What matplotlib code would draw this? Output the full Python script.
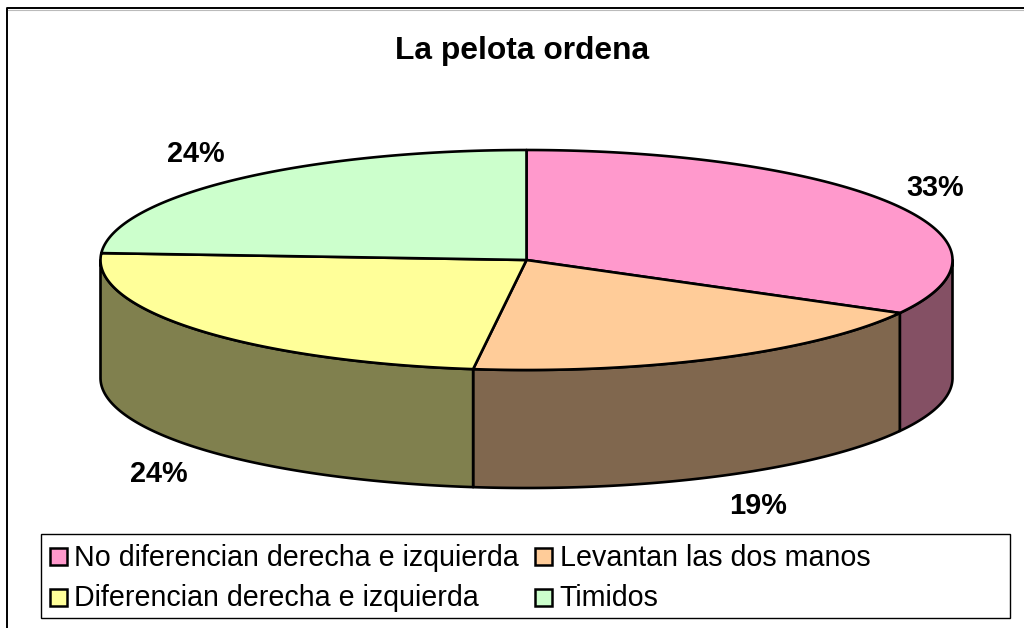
import numpy as np
import matplotlib
matplotlib.use("Agg")
import matplotlib.pyplot as plt
from matplotlib.patches import Polygon, Rectangle

categories = [
    "No diferencian derecha e izquierda",
    "Levantan las dos manos",
    "Diferencian derecha e izquierda",
    "Timidos",
]
values = [33, 19, 24, 24]
top_colors = ["#FF99CC", "#FFCC99", "#FFFF99", "#CCFFCC"]
side_colors = ["#845064", "#80674E", "#80804E", None]

plt.rcParams["font.family"] = ["Liberation Sans", "DejaVu Sans"]

cx, cy = 526.5, 260
rx, ry = 426, 110
depth = 118


def rim(a, b, n=200):
    """Points along the top ellipse, angles in degrees clockwise from 12 o'clock."""
    t = np.radians(np.linspace(a, b, n))
    return np.column_stack([cx + rx * np.sin(t), cy - ry * np.cos(t)])


fig = plt.figure(figsize=(10.24, 6.28), dpi=100)
ax = fig.add_axes([0, 0, 1, 1])
ax.set_xlim(0, 1024)
ax.set_ylim(628, 0)
ax.axis("off")

# chart frame, only left and top edges fall inside the picture
ax.plot([6.5, 6.5, 1024], [628, 7.5, 7.5], color="black", lw=1.4, solid_capstyle="butt")
ax.plot([8, 1024], [9.5, 9.5], color="#bbbbbb", lw=0.8)

ax.text(522, 50.5, "La pelota ordena", ha="center", va="center", fontsize=22.9, fontweight="bold")

edges = np.cumsum([0] + values) / sum(values) * 360

# side walls, only the part of each slice facing the viewer
for i, col in enumerate(side_colors):
    a, b = max(edges[i], 90), min(edges[i + 1], 270)
    if col is None or a >= b:
        continue
    arc = rim(a, b)
    wall = np.vstack([arc, (arc + [0, depth])[::-1]])
    ax.add_patch(Polygon(wall, closed=True, fc=col, ec="black", lw=1.9, joinstyle="round"))

# top faces
for i, col in enumerate(top_colors):
    pts = np.vstack([[cx, cy], rim(edges[i], edges[i + 1])])
    ax.add_patch(Polygon(pts, closed=True, fc=col, ec="black", lw=1.9, joinstyle="round"))

# percent labels
label_pos = [(935.5, 188.5), (758, 506.5), (159, 474.5), (196, 154.5)]
for v, (x, y) in zip(values, label_pos):
    ax.text(x, y, f"{v}%", ha="center", va="center", fontsize=20.8, fontweight="bold")

# legend box drawn by hand to keep the two column layout of the original
ax.add_patch(Rectangle((40.5, 533.5), 969, 84, fc="white", ec="black", lw=1))
swatch_pos = [(50, 548), (535, 548), (50, 589), (535, 589)]
for name, col, (x, y) in zip(categories, top_colors, swatch_pos):
    ax.add_patch(Rectangle((x, y), 17, 17, fc=col, ec="black", lw=1.8))
    ax.text(x + 24.5, y + 9.5, name, ha="left", va="center", fontsize=20.6)

fig.savefig("out.png", dpi=100)
